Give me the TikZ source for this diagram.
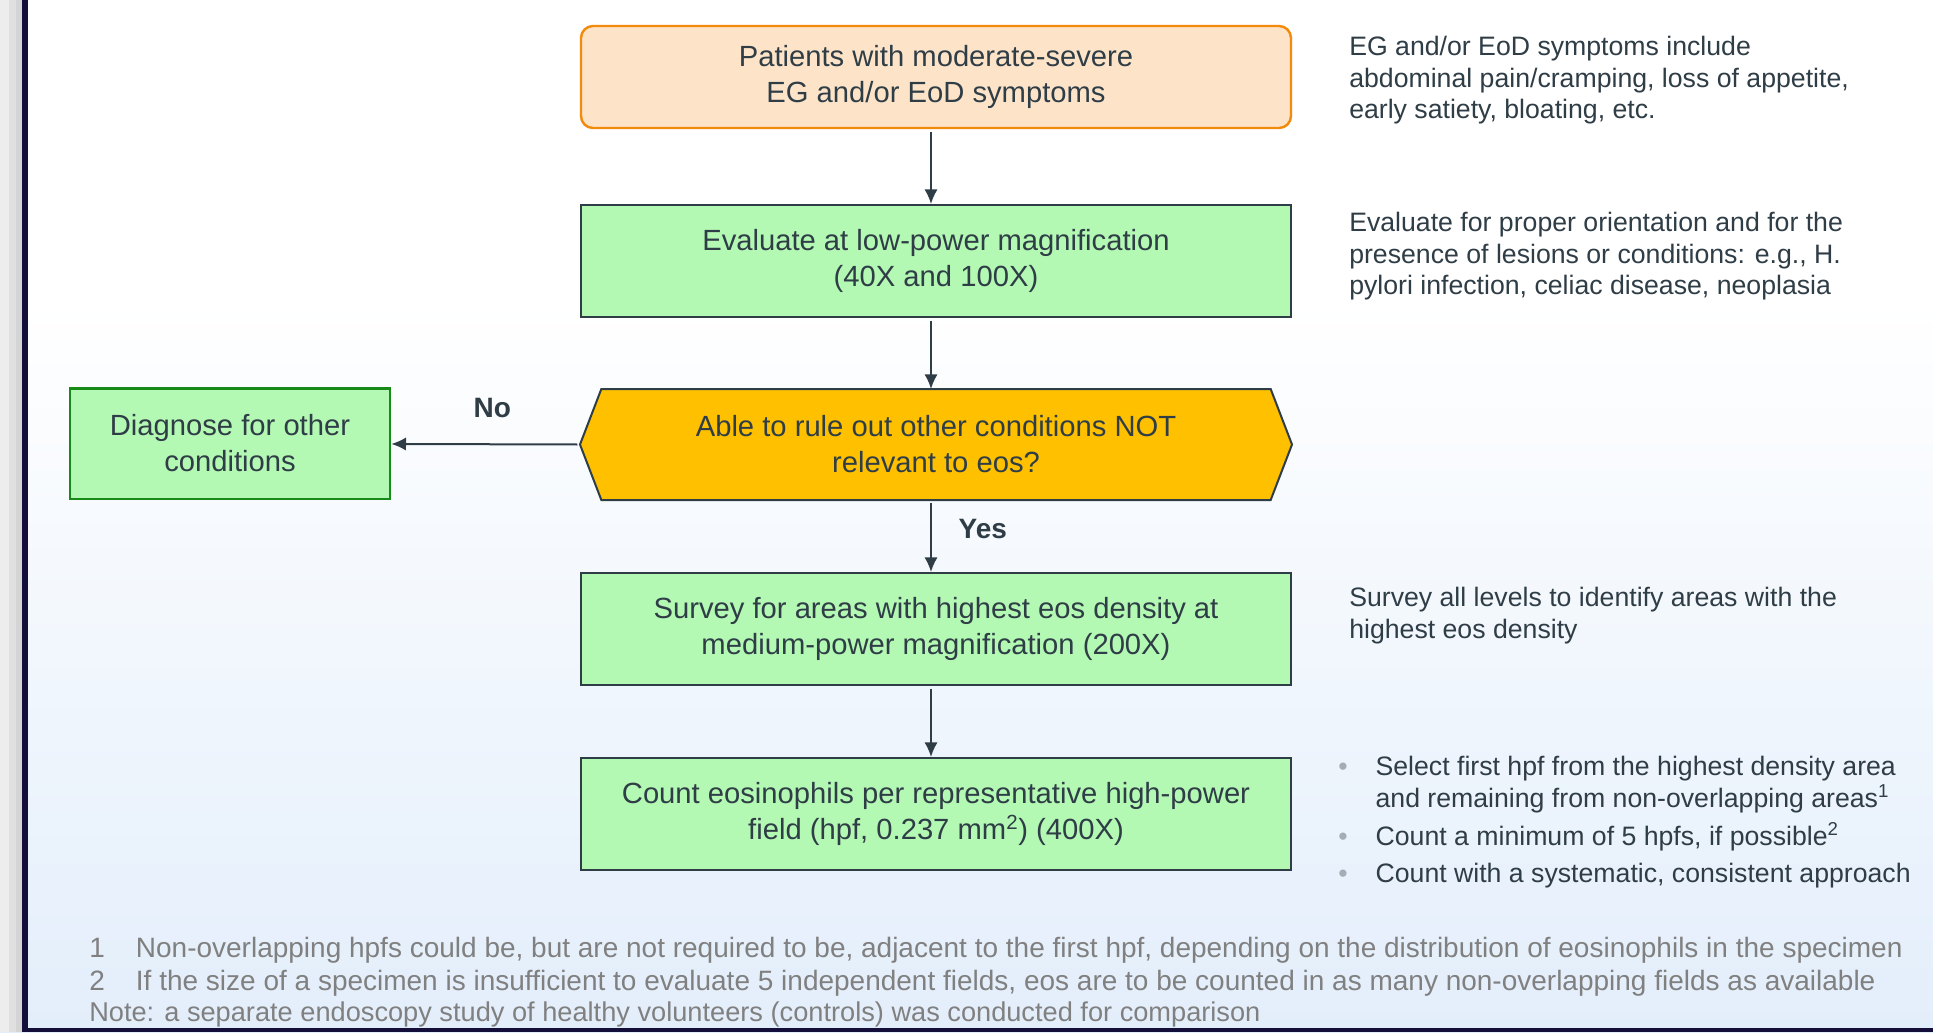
\documentclass[tikz,border=0pt]{standalone}
\usepackage{fontspec}
\setmainfont{Liberation Sans}
\usetikzlibrary{arrows.meta}

\definecolor{inkgray}{HTML}{2F3D46}
\definecolor{peach}{HTML}{FDE4C9}
\definecolor{orangeline}{HTML}{F28A0C}
\definecolor{boxgreen}{HTML}{B3F8B3}
\definecolor{diaggreen}{HTML}{178A17}
\definecolor{gold}{HTML}{FFC000}
\definecolor{bgblue}{HTML}{E3EEFB}
\definecolor{fngray}{HTML}{808080}
\definecolor{bulgray}{HTML}{A6ACB3}
\definecolor{navy}{HTML}{130F3A}

\pgfdeclarelayer{backdrop}
\pgfdeclarelayer{background}
\pgfsetlayers{backdrop,background,main}

\newcommand{\bul}{\makebox[28pt][l]{\textcolor{bulgray}{\textbullet}}}

\tikzset{
  stepbox/.style={draw=inkgray, line width=1.5pt, fill=boxgreen, text=inkgray,
    minimum width=532.5pt, minimum height=84pt, align=center,
    font=\fontsize{21.9}{27}\selectfont},
  startbox/.style={stepbox, draw=orangeline, fill=peach, line width=1.8pt,
    rounded corners=9pt, minimum height=76.5pt, font=\fontsize{21.9}{27.5}\selectfont},
  decidebox/.style={stepbox, draw=none, fill=none, minimum height=81.75pt},
  hexline/.style={draw=inkgray, line width=1.5pt, fill=gold},
  flowarrow/.style={draw=inkgray, line width=1.5pt, -{Latex[length=11pt,width=10pt]},
    shorten <=2pt},
  flowlabel/.style={text=inkgray, inner sep=0pt, font=\fontsize{21}{25}\selectfont\bfseries},
  note/.style={anchor=north west, inner sep=0pt, align=left, text=inkgray,
    font=\fontsize{20}{23.6}\selectfont},
  footnote/.style={anchor=north west, inner sep=0pt, text=fngray,
    font=\fontsize{21}{24}\selectfont}
}

\begin{document}
\begin{tikzpicture}[x=0.75pt, y=-0.75pt]
  % Rahmen und Hintergrund
  \useasboundingbox (0,0) rectangle (1933,1032);
  \begin{pgfonlayer}{backdrop}
    \fill[white] (0,0) rectangle (1933,300);
    \shade[top color=white, bottom color=bgblue] (0,300) rectangle (1933,1032);
    \fill[black!7] (0,0) rectangle (9,1032);
    \fill[black!12] (9,0) rectangle (16,1032);
    \fill[black!17] (16,0) rectangle (22,1032);
    \fill[navy] (22,0) rectangle (28,1032);
    \fill[navy] (22,1028) rectangle (1933,1032);
  \end{pgfonlayer}

  % Ablauf
  \node[startbox] (patients) at (936,77) {Patients with moderate-severe\\EG and/or EoD symptoms};
  \node[stepbox] (evaluate) at (936,261) {Evaluate at low-power magnification\\(40X and 100X)};
  \node[decidebox] (decide) at (936,444.5) {Able to rule out other conditions NOT\\relevant to eos?};
  \node[stepbox, draw=diaggreen, line width=2pt, minimum width=240pt, minimum height=83pt]
    (diagnose) at (230,443.5) {Diagnose for other\\conditions};
  \node[stepbox] (survey) at (936,629) {Survey for areas with highest eos density at\\medium-power magnification (200X)};
  \node[stepbox] (count) at (936,814) {Count eosinophils per representative high-power\\field (hpf, 0.237 mm\textsuperscript{2}) (400X)};

  % Sechseck der Entscheidung
  \begin{pgfonlayer}{background}
    \draw[hexline] ([xshift=16pt]decide.north west) -- ([xshift=-16pt]decide.north east)
      -- (decide.east) -- ([xshift=-16pt]decide.south east)
      -- ([xshift=16pt]decide.south west) -- (decide.west) -- cycle;
  \end{pgfonlayer}

  % Pfeile
  \draw[flowarrow] ([xshift=-3.75pt]patients.south) -- ([xshift=-3.75pt]evaluate.north);
  \draw[flowarrow] ([xshift=-3.75pt]evaluate.south) -- ([xshift=-3.75pt]decide.north);
  \draw[flowarrow] ([xshift=-3.75pt]decide.south) -- node[flowlabel, right=20pt, pos=0.4] {Yes} ([xshift=-3.75pt]survey.north);
  \draw[flowarrow] ([xshift=-3.75pt]survey.south) -- ([xshift=-3.75pt]count.north);
  \draw[flowarrow] (decide.west) -- node[flowlabel, above=19pt, xshift=5pt] {No} (diagnose);

  % Hinweise rechts
  \node[note] (noteA) at (1349,36) {EG and/or EoD symptoms include\\abdominal pain/cramping, loss of appetite,\\early satiety, bloating, etc.};
  \node[note] (noteB) at (1349,212) {Evaluate for proper orientation and for the\\presence of lesions or conditions: e.g., H.\\pylori infection, celiac disease, neoplasia};
  \node[note] (noteC) at (1349,587) {Survey all levels to identify areas with the\\highest eos density};
  \node[note] (noteD) at (1338,756) {\bul Select first hpf from the highest density area\\
    \hspace*{28pt}and remaining from non-overlapping areas\textsuperscript{1}\\[5pt]
    \bul Count a minimum of 5 hpfs, if possible\textsuperscript{2}\\[4pt]
    \bul Count with a systematic, consistent approach};

  % Fussnoten
  \node[footnote] (fnA) at (89,937) {\makebox[35pt][l]{1}Non-overlapping hpfs could be, but are not required to be, adjacent to the first hpf, depending on the distribution of eosinophils in the specimen};
  \node[footnote] (fnB) at (89,970) {\makebox[35pt][l]{2}If the size of a specimen is insufficient to evaluate 5 independent fields, eos are to be counted in as many non-overlapping fields as available};
  \node[footnote, font=\fontsize{20.4}{24}\selectfont] (fnC) at (89,1002) {Note: a separate endoscopy study of healthy volunteers (controls) was conducted for comparison};
\end{tikzpicture}
\end{document}
